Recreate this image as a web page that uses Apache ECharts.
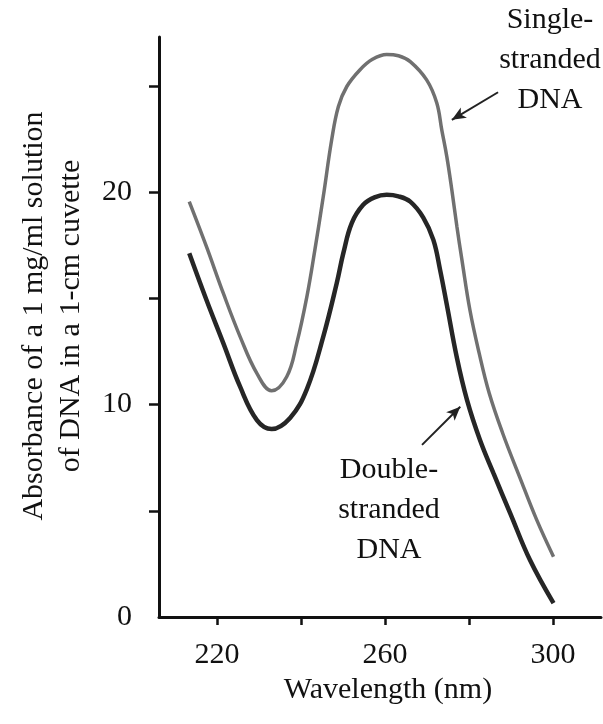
<!DOCTYPE html>
<html>
<head>
<meta charset="utf-8">
<script src="https://cdn.jsdelivr.net/npm/echarts@6/dist/echarts.min.js"></script>
<style>
html,body{margin:0;padding:0;background:#fff;}
#chart{width:603px;height:724px;}
</style>
</head>
<body>
<div id="chart"></div>
<script>
// ---- data ----
const wavelengthSingle = [213.4, 217.5, 221.5, 225.5, 229.5, 233.0, 236.6, 239.0, 241.4, 243.3, 245.3, 247.3, 248.9, 250.9, 254.0, 257.0, 260.4, 263.2, 266.0, 269.9, 272.3, 273.5, 274.7, 275.9, 277.1, 278.3, 280.2, 282.4, 284.8, 288.0, 292.0, 296.1, 300.1];
const absorbanceSingle = [19.55, 17.43, 15.24, 13.20, 11.47, 10.65, 11.31, 12.89, 15.08, 17.28, 19.79, 22.46, 24.03, 24.97, 25.75, 26.25, 26.48, 26.42, 26.14, 25.28, 24.20, 22.93, 21.67, 20.10, 18.38, 16.81, 14.45, 12.42, 10.53, 8.65, 6.61, 4.57, 2.84];

const wavelengthDouble = [213.4, 217.5, 221.5, 225.5, 229.5, 233.0, 237.4, 241.4, 245.3, 248.5, 250.1, 252.1, 254.8, 257.5, 260.4, 263.2, 266.0, 269.1, 271.5, 273.1, 274.7, 277.1, 279.5, 282.6, 285.8, 289.8, 294.5, 300.1];
const absorbanceDouble = [17.12, 14.92, 12.89, 10.84, 9.27, 8.85, 9.37, 10.73, 13.20, 15.71, 17.15, 18.55, 19.40, 19.75, 19.87, 19.80, 19.55, 18.80, 17.75, 16.34, 14.70, 12.20, 10.22, 8.33, 6.77, 4.88, 2.68, 0.65];

const xTickValues = [220, 240, 260, 280, 300];
const xLabelValues = [220, 260, 300];
const yTickValues = [5, 10, 15, 20, 25];
const yLabelValues = [0, 10, 20];

// annotation arrows (data coordinates: [from, to])
const arrowSingle = [[286.9, 24.7], [275.9, 23.4]];
const arrowDouble = [[268.8, 8.1], [277.9, 9.9]];

const labelSingle = ['Single-', 'stranded', 'DNA'];
const labelDouble = ['Double-', 'stranded', 'DNA'];
const xTitle = 'Wavelength (nm)';
const yTitle = ['Absorbance of a 1 mg/ml solution', 'of DNA in a 1-cm cuvette'];

// ---- chart ----
const FONT = '"Liberation Serif", "DejaVu Serif", serif';
const chart = echarts.init(document.getElementById('chart'), null, {renderer: 'canvas'});

function pairs(xs, ys) { return xs.map((x, i) => [x, ys[i]]); }

function textStyle(extra) {
  return Object.assign({fontFamily: FONT, fontSize: 30, fill: '#111', align: 'center', verticalAlign: 'middle'}, extra);
}

const option = {
  animation: false,
  backgroundColor: '#ffffff',
  grid: {left: 159, right: 2, top: 37, bottom: 107},
  xAxis: {
    type: 'value',
    min: 206.2,
    max: 311.4,
    splitLine: {show: false},
    axisLine: {lineStyle: {color: '#111', width: 3}},
    axisTick: {show: true, length: 8, lineStyle: {color: '#111', width: 2.5}, customValues: xTickValues},
    axisLabel: {show: true, customValues: xLabelValues, margin: 23, color: '#111', fontFamily: FONT, fontSize: 30}
  },
  yAxis: {
    type: 'value',
    min: 0,
    max: 27.3,
    splitLine: {show: false},
    axisLine: {show: true, lineStyle: {color: '#111', width: 3}},
    axisTick: {show: true, length: 10, lineStyle: {color: '#111', width: 2.5}, customValues: yTickValues},
    axisLabel: {show: true, customValues: yLabelValues, margin: 27, color: '#111', fontFamily: FONT, fontSize: 30}
  },
  series: [
    {
      name: 'Single-stranded DNA',
      type: 'line',
      data: pairs(wavelengthSingle, absorbanceSingle),
      smooth: 0.4,
      showSymbol: false,
      lineStyle: {color: '#707070', width: 3.5},
      markLine: {
        silent: true,
        symbol: ['none', 'arrow'],
        symbolSize: [9, 14],
        label: {show: false},
        lineStyle: {color: '#222', width: 2, type: 'solid'},
        data: [[{coord: arrowSingle[0]}, {coord: arrowSingle[1]}]]
      }
    },
    {
      name: 'Double-stranded DNA',
      type: 'line',
      data: pairs(wavelengthDouble, absorbanceDouble),
      smooth: 0.4,
      showSymbol: false,
      lineStyle: {color: '#262626', width: 4.5},
      markLine: {
        silent: true,
        symbol: ['none', 'arrow'],
        symbolSize: [9, 14],
        label: {show: false},
        lineStyle: {color: '#222', width: 2, type: 'solid'},
        data: [[{coord: arrowDouble[0]}, {coord: arrowDouble[1]}]]
      }
    }
  ],
  graphic: [
    {type: 'text', x: 550, y: 60, style: textStyle({text: labelSingle.join('\n'), lineHeight: 40})},
    {type: 'text', x: 389, y: 510, style: textStyle({text: labelDouble.join('\n'), lineHeight: 40})},
    {type: 'text', x: 388, y: 690, style: textStyle({text: xTitle})},
    {type: 'text', x: 53, y: 316, rotation: Math.PI / 2, style: textStyle({text: yTitle.join('\n'), lineHeight: 37})}
  ]
};
chart.setOption(option);
</script>
</body>
</html>
